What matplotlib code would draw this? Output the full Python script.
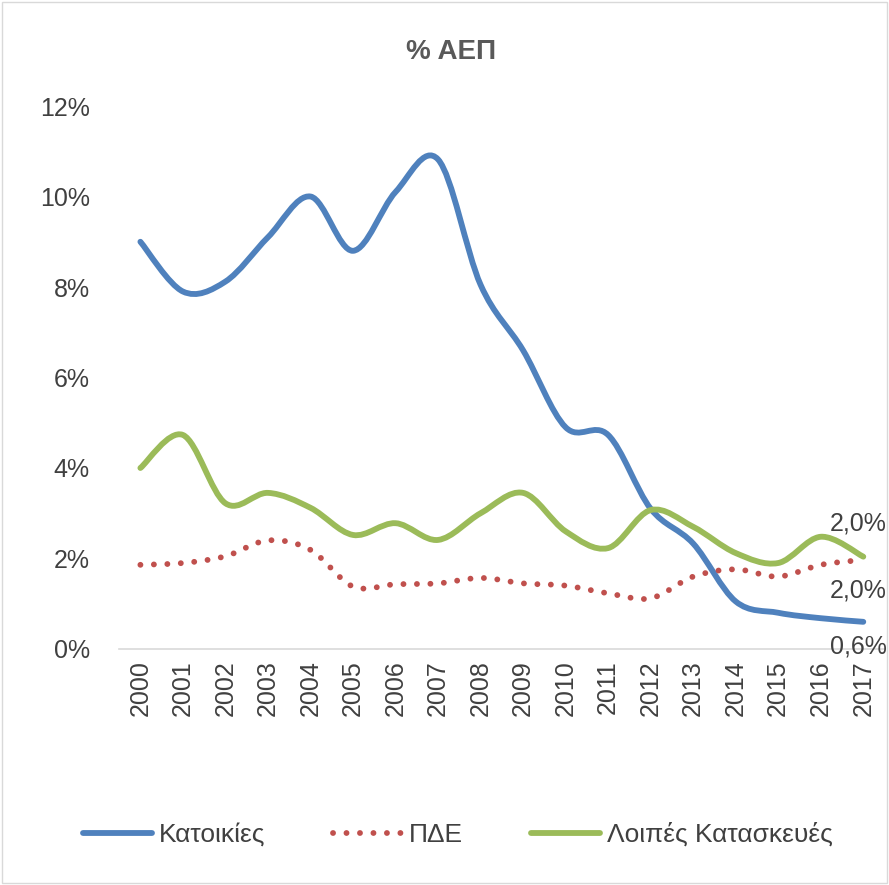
import matplotlib
matplotlib.use("Agg")
import matplotlib.pyplot as plt
from matplotlib.path import Path
from matplotlib.patches import PathPatch, Rectangle
from matplotlib.lines import Line2D

years = [str(y) for y in range(2000, 2018)]
katoikies = [9.0, 7.9, 8.12, 9.1, 10.0, 8.8, 10.1, 10.82, 8.05, 6.6,
             4.9, 4.73, 3.1, 2.33, 1.05, 0.8, 0.68, 0.6]
pde = [1.86, 1.9, 2.05, 2.4, 2.19, 1.38, 1.43, 1.45, 1.57, 1.45,
       1.4, 1.23, 1.12, 1.6, 1.76, 1.6, 1.86, 1.97]
loipes = [4.0, 4.73, 3.22, 3.45, 3.12, 2.52, 2.78, 2.41, 3.0, 3.45,
          2.6, 2.23, 3.07, 2.7, 2.12, 1.9, 2.48, 2.04]
end_labels = ["0,6%", "2,0%", "2,0%"]

names = ["Κατοικίες", "ΠΔΕ", "Λοιπές Κατασκευές"]
colors = ["#4F81BD", "#C0504D", "#9BBB59"]
dotted = (0, (0.01, 2.3))


def smooth_path(vals):
    # Excel-like smoothed line as cubic bezier segments
    n = len(vals)
    pts = [(i, v / 100.0) for i, v in enumerate(vals)]
    verts = [pts[0]]
    codes = [Path.MOVETO]
    for i in range(n - 1):
        p0 = pts[i - 1] if i > 0 else pts[i]
        p1 = pts[i]
        p2 = pts[i + 1]
        p3 = pts[i + 2] if i + 2 < n else pts[i + 1]
        c1 = (p1[0] + (p2[0] - p0[0]) / 6, p1[1] + (p2[1] - p0[1]) / 6)
        c2 = (p2[0] - (p3[0] - p1[0]) / 6, p2[1] - (p3[1] - p1[1]) / 6)
        verts += [c1, c2, p2]
        codes += [Path.CURVE4] * 3
    return Path(verts, codes)


fig = plt.figure(figsize=(8.89, 8.85), dpi=100)
plt.rcParams['font.family'] = ['Liberation Sans', 'DejaVu Sans']
ax = fig.add_axes([0.134, 0.2667, 0.861, 0.6135])

series = [katoikies, pde, loipes]
styles = ["-", dotted, "-"]
for vals, c, ls in zip(series, colors, styles):
    ax.add_patch(PathPatch(smooth_path(vals), fill=False, edgecolor=c,
                           lw=4.2, linestyle=ls, capstyle='round',
                           joinstyle='round'))

ax.set_xlim(-0.5, 17.5)
ax.set_ylim(0, 0.12)
ax.set_yticks([0, 0.02, 0.04, 0.06, 0.08, 0.10, 0.12])
ax.set_yticklabels(["0%", "2%", "4%", "6%", "8%", "10%", "12%"])
ax.set_xticks(range(len(years)))
ax.set_xticklabels(years, rotation=90)
ax.tick_params(length=0, labelsize=18, labelcolor="#404040", pad=8)
ax.tick_params(axis='y', pad=21)
for s in ["top", "right", "left"]:
    ax.spines[s].set_visible(False)
ax.spines["bottom"].set_color("#D9D9D9")
ax.spines["bottom"].set_linewidth(1.2)

# end-of-line value labels
last = len(years) - 1
offsets = [(17, -18), (17, -22), (17, 24)]
for vals, lab, off in zip(series, end_labels, offsets):
    ax.annotate(lab, (last, vals[-1] / 100), xytext=off,
                textcoords="offset points", ha="right", va="center",
                fontsize=18, color="#404040", annotation_clip=False)

fig.text(0.507, 0.941, "% ΑΕΠ", ha="center", va="center", fontsize=20,
         fontweight="bold", color="#595959")

handles = [Line2D([], [], color=c, lw=4.2, linestyle=ls,
                  solid_capstyle='round', dash_capstyle='round')
           for c, ls in zip(colors, styles)]
fig.legend(handles, names, loc="center", bbox_to_anchor=(0.515, 0.057),
           ncol=3, frameon=False, fontsize=19, handlelength=2.6,
           columnspacing=2.6, handletextpad=0.25, labelcolor="#404040")

fig.add_artist(Rectangle((0.002, 0.002), 0.996, 0.996, transform=fig.transFigure,
                         fill=False, edgecolor="#D9D9D9", lw=1))

fig.savefig("out.png", dpi=100)
